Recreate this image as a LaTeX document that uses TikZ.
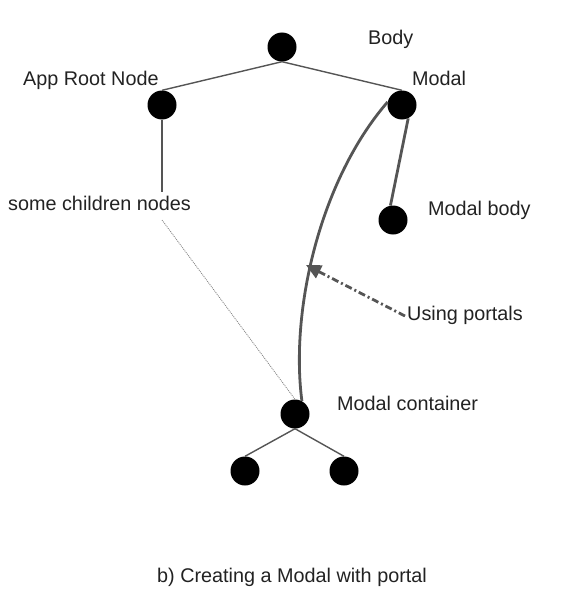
\documentclass[tikz,border=0pt]{standalone}
\usepackage{fontspec}
\setmainfont{Liberation Sans}
\usetikzlibrary{arrows.meta}
\definecolor{linegray}{HTML}{555555}
\definecolor{txtgray}{HTML}{222222}
\tikzset{
  dot/.style={circle,fill=black,draw=none,minimum size=29pt,inner sep=0pt},
  lbl/.style={anchor=base west,inner sep=0pt,text=txtgray,font=\fontsize{19.8}{23}\selectfont},
  thinedge/.style={draw=linegray,line width=1.4pt},
  thickedge/.style={draw=linegray,line width=2.8pt},
  dottededge/.style={draw=gray,line width=0.8pt,dash pattern=on 1pt off 1pt},
  portalarrow/.style={draw=linegray,line width=2.8pt,dash pattern=on 7pt off 3pt on 2pt off 3pt,-{Triangle[length=15pt,width=14pt]}}
}
\begin{document}
\begin{tikzpicture}[x=1pt,y=1pt]
\useasboundingbox (0,0) rectangle (561,-602);
% nodes
\node[dot] (body) at (282,-47) {};
\node[dot] (approot) at (162,-105) {};
\node[dot] (modal) at (402,-105) {};
\node[dot] (modalbody) at (393,-220) {};
\node[dot] (container) at (295,-414) {};
\node[dot] (leafl) at (245,-471) {};
\node[dot] (leafr) at (344,-471) {};
% labels
\node[lbl] (tbody) at (368,-45) {Body};
\node[lbl] (tapp) at (23,-85) {App Root Node};
\node[lbl] (tmodal) at (412,-85) {Modal};
\node[lbl] (tchildren) at (8,-210) {some children nodes};
\node[lbl] (tmodalbody) at (428,-215) {Modal body};
\node[lbl] (tportals) at (407,-320) {Using portals};
\node[lbl] (tcontainer) at (337,-410) {Modal container};
\node[lbl] (caption) at (157,-582) {b) Creating a Modal with portal};
% helper coordinates
\coordinate (childrenend) at (162,-192);
\coordinate (dotstart) at (162,-220);
\coordinate (arrowtail) at (405,-316);
\coordinate (arrowhead) at (306,-265);
% edges
\draw[thinedge] (body.south) -- (approot.north);
\draw[thinedge] (body.south) -- (modal.north);
\draw[thickedge] (approot.south) -- (childrenend);
\draw[dottededge] (dotstart) -- (container.north);
\draw[thickedge] (modal.-65) -- (modalbody.100);
\draw[thickedge] (container.62) .. controls (290,-310) and (320,-180) .. (modal.168);
\draw[thinedge] (container.south) -- (leafl.north);
\draw[thinedge] (container.south) -- (leafr.north);
\draw[portalarrow] (arrowtail) -- (arrowhead);
\end{tikzpicture}
\end{document}
